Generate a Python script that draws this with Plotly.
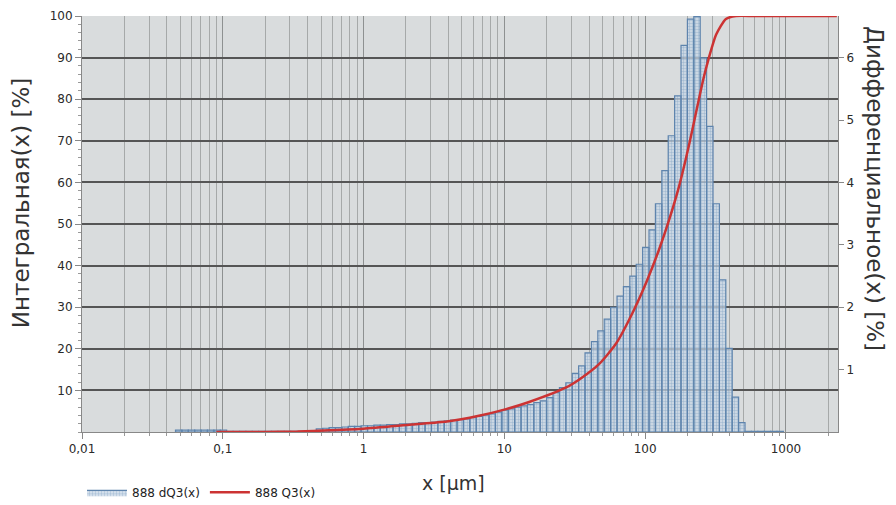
import numpy as np
import plotly.graph_objects as go

# ---- data ----
# Differential distribution dQ3 [%]; size classes of 1/22 decade
class_log_start = -1.336
class_log_width = 1.0 / 22.0
dq3 = ([0.03] * 8 + [0.01] * 14 +
       [0.05, 0.06, 0.07, 0.07, 0.08, 0.09, 0.09, 0.10, 0.10, 0.11, 0.11, 0.12,
        0.12, 0.13, 0.13, 0.14, 0.15, 0.15, 0.16, 0.17, 0.18, 0.19, 0.20, 0.21,
        0.23, 0.25, 0.27, 0.29, 0.32, 0.35, 0.37, 0.40, 0.42, 0.44, 0.47, 0.50,
        0.55, 0.63, 0.71, 0.79, 0.94, 1.06, 1.27, 1.45, 1.62, 1.81, 2.00, 2.18,
        2.33, 2.50, 2.69, 2.96, 3.24, 3.66, 4.19, 4.75, 5.39, 6.20, 6.62, 6.66,
        6.00, 4.90, 3.66, 2.44, 1.34, 0.56, 0.15] + [0.01] * 6)

# Cumulative distribution Q3 [%]
q3_x = [0.09, 0.2, 0.34, 0.57, 1.0, 2.2, 3.9, 6.6, 10.3, 15, 27.5, 35.7, 47, 62, 81,
        102, 126, 148, 174, 205, 234, 262, 284, 319, 375, 442, 600, 2300]
q3_y = [0, 0.03, 0.1, 0.4, 0.8, 1.8, 2.5, 3.9, 5.5, 7.2, 10.7, 13.1, 16.3, 21.2, 28.5,
        36, 44, 51, 59, 69, 78, 85.5, 90, 95.5, 99.3, 100, 100, 100]

x_tickvals = [0.01, 0.1, 1, 10, 100, 1000]
x_ticktext = ["0,01", "0,1", "1", "10", "100", "1000"]
left_ticks = [10, 20, 30, 40, 50, 60, 70, 80, 90, 100]
right_ticks = [1, 2, 3, 4, 5, 6]

# ---- build bar outlines (one rectangle per class) ----
hx, hy = [], []
for i, v in enumerate(dq3):
    lo = 10 ** (class_log_start + i * class_log_width)
    hi = 10 ** (class_log_start + (i + 1) * class_log_width)
    hx += [lo, lo, hi, hi, lo, None]
    hy += [0, v, v, 0, 0, None]

minor_vals = [d * 10.0 ** k for k in range(-2, 4) for d in range(2, 10)]

fig = go.Figure()
fig.add_trace(go.Scatter(
    x=hx, y=hy, mode="lines", fill="toself",
    line=dict(color="#5e84ad", width=1.2),
    fillcolor="rgba(190,207,224,0.75)",
    fillpattern=dict(shape=".", size=3, solidity=0.5,
                     fgcolor="rgba(110,148,188,0.95)", bgcolor="rgba(215,226,237,0.7)"),
    name="888 dQ3(x)", xaxis="x", yaxis="y", hoverinfo="skip"))
fig.add_trace(go.Scatter(
    x=q3_x, y=q3_y, mode="lines", line=dict(color="#cc3333", width=2.5, shape="spline", smoothing=0.6),
    name="888 Q3(x)", xaxis="x", yaxis="y2"))

tickfont = dict(family="DejaVu Sans", size=12, color="#2a2a2a")
fig.update_layout(
    width=896, height=505,
    margin=dict(l=82, r=58, t=16, b=73, autoexpand=False),
    paper_bgcolor="white", plot_bgcolor="#d9dcdd",
    font=dict(family="DejaVu Sans", size=12, color="#333333"),
    showlegend=True,
    legend=dict(orientation="h", x=0.0, xanchor="left", y=-0.145, yanchor="middle",
                font=dict(family="DejaVu Sans", size=12, color="#222222"),
                bgcolor="rgba(0,0,0,0)", itemwidth=40),
    xaxis=dict(type="log", range=[-2, 3.37], tickvals=x_tickvals, ticktext=x_ticktext,
               tickfont=tickfont, ticks="outside", ticklen=6, tickcolor="#888888",
               showgrid=True, gridcolor="#8e9191", gridwidth=1,
               showline=True, linecolor="#888888", linewidth=1, zeroline=False,
               minor=dict(tickvals=minor_vals, ticks="outside", ticklen=3, tickcolor="#999999",
                          showgrid=True, gridcolor="#a6a9a9", gridwidth=1)),
    yaxis=dict(side="right", range=[0, 6.67], tickvals=right_ticks, tickfont=tickfont,
               ticks="outside", ticklen=5, tickcolor="#888888", showgrid=False,
               showline=True, linecolor="#888888", zeroline=False),
    yaxis2=dict(side="left", overlaying="y", range=[0, 100], tickvals=left_ticks,
                tickfont=tickfont, ticks="outside", ticklen=6, tickcolor="#888888",
                showgrid=True, gridcolor="#555555", gridwidth=1.5,
                showline=True, linecolor="#888888", zeroline=False,
                minor=dict(dtick=2, ticks="outside", ticklen=3, tickcolor="#999999", showgrid=False)),
    annotations=[
        dict(text="Интегральная(x) [%]", textangle=-90, xref="paper", yref="paper",
             x=-0.0807, y=0.55, xanchor="center", yanchor="middle", showarrow=False,
             font=dict(family="DejaVu Sans", size=23, color="#333333")),
        dict(text="Дифференциальное(x) [%]", textangle=90, xref="paper", yref="paper",
             x=1.049, y=0.5865, xanchor="center", yanchor="middle", showarrow=False,
             font=dict(family="DejaVu Sans", size=23, color="#333333")),
        dict(text="x [µm]", xref="paper", yref="paper", x=0.492, y=-0.123,
             xanchor="center", yanchor="middle", showarrow=False,
             font=dict(family="DejaVu Sans", size=19, color="#333333")),
    ],
)

fig.write_html("out.html")
